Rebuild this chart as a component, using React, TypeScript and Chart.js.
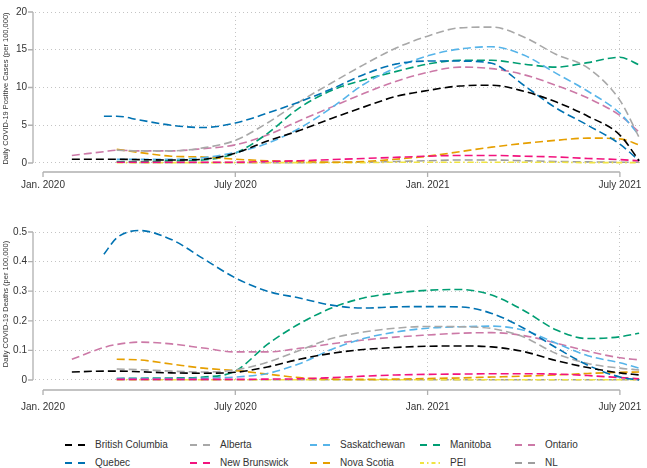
import React, { useEffect, useRef } from "react";
import { Chart, registerables } from "chart.js";

Chart.register(...registerables);

// Months since Jan. 2020 (0 = Jan. 2020, 6 = July 2020, 12 = Jan. 2021, 18 = July 2021)
const MONTHS = [0.9, 1.9, 2.3, 3, 4, 5, 6, 7, 8, 9, 10, 11, 12, 13, 14, 15, 16, 17, 18, 18.6];

const X_TICKS = [0, 6, 12, 18];
const X_LABELS = ["Jan. 2020", "July 2020", "Jan. 2021", "July 2021"];

const CASE_TICKS = [0, 5, 10, 15, 20];
const CASE_TICK_LABELS = ["0", "5", "10", "15", "20"];
const DEATH_TICKS = [0, 0.1, 0.2, 0.3, 0.4, 0.5];
const DEATH_TICK_LABELS = ["0", "0.1", "0.2", "0.3", "0.4", "0.5"];

const PROVINCES = [
  "British Columbia",
  "Quebec",
  "Alberta",
  "New Brunswick",
  "Saskatchewan",
  "Nova Scotia",
  "Manitoba",
  "PEI",
  "Ontario",
  "NL",
];
const COLORS = [
  "#000000",
  "#0072B2",
  "#A8A8A8",
  "#F2137E",
  "#56B4E9",
  "#E69F00",
  "#009E73",
  "#F0E442",
  "#CC79A7",
  "#9E9E9E",
];

// Daily positive cases (per 100,000)
const bcCases = [0.5, 0.5, 0.5, 0.45, 0.4, 0.5, 1.3, 2.9, 4.3, 5.9, 7.4, 8.8, 9.6, 10.2, 10.3, 9.5, 8.1, 6.2, 3.7, 0.3];
const qcCases = [null, 6.2, 6.2, 5.7, 5.0, 4.7, 5.3, 6.6, 8.1, 9.8, 11.7, 13.1, 13.5, 13.5, 13.2, 10.3, 7.3, 5.0, 2.5, 0.3];
const abCases = [null, null, 1.7, 1.6, 1.6, 2.0, 3.0, 5.3, 8.1, 10.6, 13.0, 15.2, 16.8, 17.9, 18.0, 16.7, 14.4, 12.6, 8.3, 3.4];
const nbCases = [null, null, 0.1, 0.1, 0.1, 0.1, 0.1, 0.2, 0.3, 0.45, 0.6, 0.75, 0.9, 1.0, 1.0, 0.9, 0.8, 0.6, 0.45, 0.3];
const skCases = [null, null, 0.5, 0.5, 0.5, 0.7, 1.4, 2.6, 4.6, 7.3, 10.4, 12.6, 14.2, 15.1, 15.4, 14.3, 11.9, 9.5, 6.6, 3.7];
const nsCases = [null, null, 1.8, 1.4, 0.9, 0.8, 0.5, 0.3, 0.2, 0.1, 0.2, 0.5, 0.9, 1.5, 2.1, 2.6, 3.0, 3.3, 3.2, 2.4];
const mbCases = [null, null, 0.2, 0.2, 0.3, 0.4, 1.3, 3.9, 7.3, 9.6, 11.0, 12.1, 13.1, 13.6, 13.6, 13.1, 12.7, 13.3, 14.0, 13.0];
const peiCases = [null, null, 0.05, 0.05, 0.05, 0.05, 0.05, 0.05, 0.05, 0.05, 0.05, 0.1, 0.1, 0.1, 0.1, 0.1, 0.1, 0.05, 0.05, 0.05];
const onCases = [1.0, 1.5, 1.7, 1.6, 1.6, 1.9, 2.4, 3.7, 5.6, 7.4, 9.2, 10.8, 12.0, 12.7, 12.5, 11.7, 10.3, 8.6, 6.3, 4.1];
const nlCases = [null, null, 0.1, 0.05, 0.05, 0.05, 0.05, 0.05, 0.05, 0.1, 0.1, 0.2, 0.3, 0.4, 0.4, 0.3, 0.2, 0.15, 0.1, 0.1];

// Daily deaths (per 100,000)
const bcDeaths = [0.027, 0.03, 0.03, 0.028, 0.024, 0.023, 0.026, 0.044, 0.07, 0.09, 0.103, 0.11, 0.114, 0.115, 0.112, 0.096, 0.066, 0.042, 0.024, 0.017];
const qcDeaths = [null, 0.425, 0.48, 0.505, 0.475, 0.41, 0.345, 0.3, 0.277, 0.253, 0.243, 0.247, 0.248, 0.247, 0.225, 0.175, 0.11, 0.05, 0.01, 0.0];
const abDeaths = [null, null, 0.037, 0.035, 0.03, 0.027, 0.034, 0.06, 0.1, 0.14, 0.162, 0.175, 0.181, 0.18, 0.174, 0.145, 0.09, 0.056, 0.04, 0.034];
const nbDeaths = [null, null, 0.002, 0.002, 0.002, 0.002, 0.002, 0.003, 0.004, 0.008, 0.013, 0.017, 0.019, 0.02, 0.021, 0.021, 0.02, 0.015, 0.008, 0.004];
const skDeaths = [null, null, 0.005, 0.005, 0.005, 0.006, 0.01, 0.022, 0.055, 0.103, 0.14, 0.162, 0.175, 0.18, 0.182, 0.168, 0.125, 0.082, 0.058, 0.04];
const nsDeaths = [null, null, 0.07, 0.068, 0.054, 0.04, 0.032, 0.02, 0.008, 0.003, 0.002, 0.003, 0.005, 0.007, 0.01, 0.013, 0.017, 0.022, 0.026, 0.027];
const mbDeaths = [null, null, 0.005, 0.006, 0.007, 0.01, 0.03, 0.12, 0.19, 0.243, 0.277, 0.294, 0.303, 0.306, 0.287, 0.235, 0.17, 0.14, 0.146, 0.158];
const peiDeaths = [null, null, 0.001, 0.001, 0.001, 0.001, 0.001, 0.001, 0.001, 0.001, 0.001, 0.001, 0.001, 0.001, 0.001, 0.001, 0.001, 0.001, 0.001, 0.001];
const onDeaths = [0.07, 0.11, 0.12, 0.128, 0.122, 0.108, 0.095, 0.095, 0.107, 0.122, 0.135, 0.145, 0.152, 0.158, 0.16, 0.15, 0.125, 0.097, 0.075, 0.068];
const nlDeaths = [null, null, 0.001, 0.001, 0.001, 0.001, 0.001, 0.001, 0.001, 0.001, 0.001, 0.001, 0.001, 0.001, 0.001, 0.001, 0.001, 0.001, 0.001, 0.001];

const CASES = [bcCases, qcCases, abCases, nbCases, skCases, nsCases, mbCases, peiCases, onCases, nlCases];
const DEATHS = [bcDeaths, qcDeaths, abDeaths, nbDeaths, skDeaths, nsDeaths, mbDeaths, peiDeaths, onDeaths, nlDeaths];

const FONT = "'Liberation Sans', Arial, Helvetica, sans-serif";
const TEXT = "#333333";
const AXIS = "#b0b0b0";
const GRID = "#c4c4c4";

function dashFor(i: number) {
  return PROVINCES[i] === "PEI" ? [6, 3, 1.5, 3] : [8, 4];
}

const axisPlugin = {
  id: "stataAxes",
  beforeDatasetsDraw(chart: any, _args: any, opts: any) {
    const { ctx, chartArea } = chart;
    const xs = chart.scales.x;
    const ys = chart.scales.y;
    ctx.save();
    ctx.strokeStyle = AXIS;
    ctx.lineWidth = 1.3;
    const ax = chartArea.left - 2;
    const yTicks: number[] = opts.yTicks;
    const yTop = ys.getPixelForValue(yTicks[yTicks.length - 1]);
    const yBot = ys.getPixelForValue(yTicks[0]);
    ctx.beginPath();
    ctx.moveTo(ax, yTop);
    ctx.lineTo(ax, yBot);
    yTicks.forEach((v) => {
      const py = ys.getPixelForValue(v);
      ctx.moveTo(ax - 5, py);
      ctx.lineTo(ax, py);
    });
    const ay = chartArea.bottom + opts.xOffset;
    ctx.moveTo(xs.getPixelForValue(X_TICKS[0]), ay);
    ctx.lineTo(xs.getPixelForValue(X_TICKS[X_TICKS.length - 1]), ay);
    X_TICKS.forEach((v) => {
      const px = xs.getPixelForValue(v);
      ctx.moveTo(px, ay);
      ctx.lineTo(px, ay + 5);
    });
    ctx.stroke();
    ctx.restore();
  },
};

function buildConfig(
  series: (number | null)[][],
  yTicks: number[],
  yLabels: string[],
  yMin: number,
  yMax: number,
  title: string,
  xLabelGap: number,
  xOffset: number,
  padding: any
): any {
  return {
    type: "line",
    data: {
      datasets: series.map((vals, i) => ({
        label: PROVINCES[i],
        data: MONTHS.map((m, k) => ({ x: m, y: vals[k] })),
        borderColor: COLORS[i],
        backgroundColor: COLORS[i],
        borderWidth: 1.6,
        borderDash: dashFor(i),
        pointRadius: 0,
        fill: false,
        spanGaps: false,
        cubicInterpolationMode: "monotone",
      })),
    },
    options: {
      responsive: false,
      animation: false,
      events: [],
      layout: { padding },
      plugins: {
        legend: { display: false },
        tooltip: { enabled: false },
        stataAxes: { yTicks, xOffset },
      },
      scales: {
        x: {
          type: "linear",
          min: -0.25,
          max: 18.69,
          afterBuildTicks: (s: any) => {
            s.ticks = X_TICKS.map((v) => ({ value: v }));
          },
          afterFit: (s: any) => {
            s.height = 30;
          },
          ticks: {
            padding: 0,
            autoSkip: false,
            maxRotation: 0,
            color: TEXT,
            font: { family: FONT, size: 10 },
            callback: (v: number) => X_LABELS[X_TICKS.indexOf(v)] ?? "",
          },
          grid: {
            drawTicks: true,
            tickLength: xLabelGap,
            tickColor: "rgba(0,0,0,0)",
            color: (c: any) => (c.tick && c.tick.value === 0 ? "rgba(0,0,0,0)" : GRID),
            lineWidth: 1,
          },
          border: { display: false, dash: [1, 3] },
        },
        y: {
          type: "linear",
          min: yMin,
          max: yMax,
          afterBuildTicks: (s: any) => {
            s.ticks = yTicks.map((v) => ({ value: v }));
          },
          afterFit: (s: any) => {
            s.width = 35;
          },
          ticks: {
            padding: 0,
            autoSkip: false,
            color: TEXT,
            font: { family: FONT, size: 10 },
            callback: (v: number) => yLabels[yTicks.indexOf(v)] ?? "",
          },
          grid: {
            drawTicks: true,
            tickLength: 8,
            tickColor: "rgba(0,0,0,0)",
            color: GRID,
            lineWidth: 1,
          },
          border: { display: false, dash: [1, 3] },
          title: {
            display: true,
            text: title,
            color: TEXT,
            font: { family: FONT, size: 7.5 },
            padding: { top: 1, bottom: 0 },
          },
        },
      },
    },
    plugins: [axisPlugin],
  };
}

function LegendSample({ color, dash }: { color: string; dash: number[] }) {
  return (
    <svg width={20} height={4} style={{ display: "block" }}>
      <line x1={0} y1={2} x2={20} y2={2} stroke={color} strokeWidth={1.8} strokeDasharray={dash.join(" ")} />
    </svg>
  );
}

const LEGEND_SAMPLE_X = [65, 190, 310, 420, 515];
const LEGEND_TEXT_X = [95, 220, 340, 450, 545];
const LEGEND_ROW_Y = [445, 463];

export default function App() {
  const topRef = useRef<HTMLCanvasElement>(null);
  const botRef = useRef<HTMLCanvasElement>(null);

  useEffect(() => {
    const top = new Chart(
      topRef.current as HTMLCanvasElement,
      buildConfig(
        CASES,
        CASE_TICKS,
        CASE_TICK_LABELS,
        -0.265,
        20,
        "Daily COVID-19 Positive Cases (per 100,000)",
        14,
        7,
        { top: 12, bottom: 5, left: 0, right: 5 }
      )
    );
    const bot = new Chart(
      botRef.current as HTMLCanvasElement,
      buildConfig(
        DEATHS,
        DEATH_TICKS,
        DEATH_TICK_LABELS,
        -0.00676,
        0.5203,
        "Daily COVID-19 Deaths (per 100,000)",
        19,
        8,
        { top: 26, bottom: 13, left: 0, right: 5 }
      )
    );
    return () => {
      top.destroy();
      bot.destroy();
    };
  }, []);

  return (
    <div
      style={{
        position: "absolute",
        left: 0,
        top: 0,
        width: 647,
        height: 468,
        background: "#ffffff",
        fontFamily: FONT,
        overflow: "hidden",
      }}
    >
      <canvas ref={topRef} width={647} height={200} style={{ position: "absolute", left: 0, top: 0, display: "block" }} />
      <canvas ref={botRef} width={647} height={225} style={{ position: "absolute", left: 0, top: 200, display: "block" }} />
      {PROVINCES.map((name, i) => {
        const col = Math.floor(i / 2);
        const row = i % 2;
        const cy = LEGEND_ROW_Y[row];
        return (
          <React.Fragment key={name}>
            <div style={{ position: "absolute", left: LEGEND_SAMPLE_X[col], top: cy - 2 }}>
              <LegendSample color={COLORS[i]} dash={name === "PEI" ? [4, 3, 1.5, 3] : [7, 6]} />
            </div>
            <div
              style={{
                position: "absolute",
                left: LEGEND_TEXT_X[col],
                top: cy - 7,
                fontSize: 10,
                lineHeight: "14px",
                color: TEXT,
                whiteSpace: "nowrap",
              }}
            >
              {name}
            </div>
          </React.Fragment>
        );
      })}
    </div>
  );
}
